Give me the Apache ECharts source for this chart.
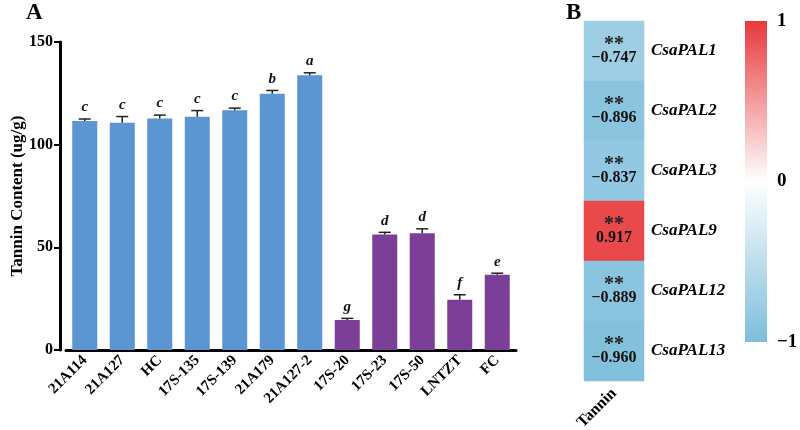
<!DOCTYPE html>
<html>
<head>
<meta charset="utf-8">
<script src="https://cdn.jsdelivr.net/npm/echarts@6/dist/echarts.min.js"></script>
<style>
  html, body { margin: 0; padding: 0; background: #fff; }
  #main { width: 800px; height: 430px; }
</style>
</head>
<body>
<div id="main"></div>
<script>
var chartDom = document.getElementById("main");
var myChart = echarts.init(chartDom);
var option;

// panel A data
const samples = ["21A114", "21A127", "HC", "17S-135", "17S-139", "21A179", "21A127-2",
  "17S-20", "17S-23", "17S-50", "LNTZT", "FC"];
const tannin = [111.5, 110.7, 112.8, 113.6, 116.8, 124.8, 133.8, 14.6, 56.3, 56.8, 24.5, 36.7];
const tanninErr = [1.0, 3.0, 1.6, 3.0, 1.0, 1.6, 1.2, 0.8, 1.0, 2.2, 2.4, 0.7];
const letters = ["c", "c", "c", "c", "c", "b", "a", "g", "d", "d", "f", "e"];
const groupSize = 7; // first 7 samples blue, rest purple

// panel B data
const genes = ["CsaPAL1", "CsaPAL2", "CsaPAL3", "CsaPAL9", "CsaPAL12", "CsaPAL13"];
const corr = [-0.747, -0.896, -0.837, 0.917, -0.889, -0.960];
const stars = ["**", "**", "**", "**", "**", "**"];
const scaleColors = ["#7dbddb", "#ffffff", "#e8383c"];

const serif = '"Liberation Serif", "DejaVu Serif", serif';

function fmtNum(v) {
  return (v < 0 ? "\u2212" : "") + Math.abs(v).toFixed(3);
}

function renderErr(params, api) {
  var x = api.value(0);
  var y = api.value(1);
  var e = api.value(2);
  var base = api.coord([x, y]);
  var top = api.coord([x, y + e]);
  var half = 6;
  return {
    type: "group",
    children: [
      { type: "line", shape: { x1: base[0], y1: base[1], x2: top[0], y2: top[1] },
        style: { stroke: "#222", lineWidth: 1.5 } },
      { type: "line", shape: { x1: top[0] - half, y1: top[1], x2: top[0] + half, y2: top[1] },
        style: { stroke: "#222", lineWidth: 1.5 } },
      { type: "text", x: top[0], y: top[1] - 4,
        style: { text: letters[params.dataIndex], align: "center", verticalAlign: "bottom",
          font: "italic bold 15px " + serif, fill: "#111" } }
    ]
  };
}

// colour scale bar, drawn on its own little value axis
function renderScale(params, api) {
  var p0 = api.coord([0, -1]);
  var p1 = api.coord([0, 1]);
  var w = api.size([1, 0])[0];
  return {
    type: "rect",
    shape: { x: p0[0] - w / 2, y: p1[1], width: w, height: p0[1] - p1[1] },
    style: {
      fill: new echarts.graphic.LinearGradient(0, 1, 0, 0, [
        { offset: 0, color: scaleColors[0] },
        { offset: 0.5, color: scaleColors[1] },
        { offset: 1, color: scaleColors[2] }
      ])
    }
  };
}

option = {
  animation: false,
  textStyle: { fontFamily: serif },
  graphic: [
    { type: "text", left: 26, top: 2, style: { text: "A", font: "bold 23px " + serif, fill: "#000" } },
    { type: "text", left: 566, top: 2, style: { text: "B", font: "bold 23px " + serif, fill: "#000" } }
  ],
  grid: [
    { left: 66, top: 42, width: 450, height: 308, outerBoundsMode: "none" },
    { left: 584, top: 21, width: 60, height: 360, outerBoundsMode: "none" },
    { left: 745, top: 21, width: 22, height: 321, outerBoundsMode: "none" }
  ],
  xAxis: [
    {
      type: "category", gridIndex: 0, data: samples,
      axisLine: { lineStyle: { color: "#000", width: 3 } },
      axisTick: { alignWithLabel: true, length: 5, lineStyle: { color: "#000", width: 2 } },
      axisLabel: { rotate: 45, color: "#000", fontWeight: "bold", fontSize: 15, margin: 8, interval: 0 }
    },
    {
      type: "category", gridIndex: 1, data: ["Tannin"],
      axisLine: { show: false }, axisTick: { show: false },
      axisLabel: { rotate: 45, color: "#000", fontWeight: "bold", fontSize: 16, margin: 10 }
    },
    { type: "category", gridIndex: 2, show: false, data: ["scale"] }
  ],
  yAxis: [
    {
      type: "value", gridIndex: 0, min: 0, max: 150, interval: 50, offset: 6,
      name: "Tannin Content (ug/g)", nameLocation: "middle", nameGap: 34, nameMoveOverlap: false,
      nameTextStyle: { color: "#000", fontWeight: "bold", fontSize: 17 },
      axisLine: { show: true, lineStyle: { color: "#000", width: 3 } },
      axisTick: { show: true, length: 6, lineStyle: { color: "#000", width: 2 } },
      axisLabel: { color: "#000", fontWeight: "bold", fontSize: 16, margin: 7 },
      splitLine: { show: false }
    },
    {
      type: "category", gridIndex: 1, data: genes, inverse: true, position: "right",
      axisLine: { show: false }, axisTick: { show: false },
      axisLabel: { color: "#000", fontWeight: "bold", fontStyle: "italic", fontSize: 17, margin: 7 }
    },
    {
      type: "value", gridIndex: 2, min: -1, max: 1, interval: 1, position: "right",
      axisLine: { show: false }, axisTick: { show: false }, splitLine: { show: false },
      axisLabel: { color: "#000", fontWeight: "bold", fontSize: 19, margin: 10,
        formatter: function (v) { return v < 0 ? "\u2212" + Math.abs(v) : String(v); } }
    }
  ],
  visualMap: {
    type: "continuous", show: false, min: -1, max: 1, seriesIndex: 2, dimension: 2,
    inRange: { color: scaleColors }
  },
  series: [
    {
      type: "bar", xAxisIndex: 0, yAxisIndex: 0, barWidth: 25,
      data: tannin.map(function (v, i) {
        return { value: v, itemStyle: { color: i < groupSize ? "#5b95d2" : "#7b3f98" } };
      })
    },
    {
      type: "custom", xAxisIndex: 0, yAxisIndex: 0, renderItem: renderErr, z: 3,
      data: tannin.map(function (v, i) { return [i, v, tanninErr[i]]; })
    },
    {
      type: "heatmap", xAxisIndex: 1, yAxisIndex: 1,
      data: corr.map(function (v, i) { return [0, i, v]; }),
      label: {
        show: true, color: "#111",
        formatter: function (p) { return "{s|" + stars[p.dataIndex] + "}\n{n|" + fmtNum(p.value[2]) + "}"; },
        rich: {
          s: { fontSize: 20, fontWeight: "bold", lineHeight: 14, color: "#222", padding: [6, 0, 0, 0] },
          n: { fontSize: 16, fontWeight: "bold", lineHeight: 18, color: "#111" }
        }
      }
    },
    {
      type: "custom", xAxisIndex: 2, yAxisIndex: 2, renderItem: renderScale,
      data: [[0, 0]], silent: true
    }
  ]
};

option && myChart.setOption(option);
</script>
</body>
</html>
